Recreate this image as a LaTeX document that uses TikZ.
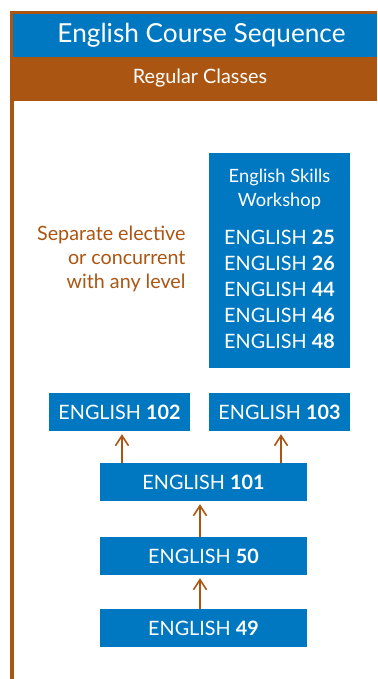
\documentclass[tikz,border=0pt]{standalone}
\usepackage{fontspec}
\setmainfont{Lato}
\usetikzlibrary{arrows.meta,calc}
\definecolor{courseblue}{RGB}{0,120,193}
\definecolor{rust}{RGB}{170,85,18}
\begin{document}
\begin{tikzpicture}[x=1pt,y=-1pt,
  course/.style={fill=courseblue,text=white,inner sep=0pt,font=\fontsize{19.8}{22}\selectfont},
  uparrow/.style={draw=rust,line width=1.8pt,-{Straight Barb[length=10pt,width=13pt,line width=1.6pt]},shorten >=3pt}]
\useasboundingbox (0,0) rectangle (377,679);
% frame and header bands
\fill[rust] (10,11) rectangle (377,101);
\fill[rust] (10,101) rectangle (14,679);
\fill[courseblue] (13,14) rectangle (377,57);
\node[text=white,font=\fontsize{26.2}{30}\selectfont] (title) at (201.5,35) {English Course Sequence};
\node[text=white,font=\fontsize{19.8}{22}\selectfont] (regular) at (200,78.5) {Regular Classes};
% workshop block
\node[course,minimum width=141pt,minimum height=215pt] (workshop) at (279.5,260.5) {};
\node[text=white,align=center,font=\fontsize{18.3}{24}\selectfont] (wtitle) at (279.5,189) {English Skills\\Workshop};
\node[course] (e25) at (279.5,237) {ENGLISH \textbf{25}};
\node[course] (e26) at (279.5,263) {ENGLISH \textbf{26}};
\node[course] (e44) at (279.5,289) {ENGLISH \textbf{44}};
\node[course] (e46) at (279.5,315) {ENGLISH \textbf{46}};
\node[course] (e48) at (279.5,341) {ENGLISH \textbf{48}};
\node[text=rust,align=right,anchor=east,font=\fontsize{19.7}{24}\selectfont] (note) at (189,259) {Separate elective\\or concurrent\\with any level};
% course sequence
\node[course,minimum width=141pt,minimum height=38pt] (b102) at (119.5,412) {ENGLISH \textbf{102}};
\node[course,minimum width=141pt,minimum height=38pt] (b103) at (279.5,412) {ENGLISH \textbf{103}};
\node[course,minimum width=207pt,minimum height=38pt] (b101) at (203.5,482) {ENGLISH \textbf{101}};
\node[course,minimum width=207pt,minimum height=38pt] (b50) at (203.5,556) {ENGLISH \textbf{50}};
\node[course,minimum width=207pt,minimum height=38pt] (b49) at (203.5,628) {ENGLISH \textbf{49}};
\draw[uparrow] ($(b101.north -| b102.south)+(2.5,0)$) -- ($(b102.south)+(2.5,0)$);
\draw[uparrow] ($(b101.north -| b103.south)+(1.5,0)$) -- ($(b103.south)+(1.5,0)$);
\draw[uparrow] ($(b50.north)+(-3.5,0)$) -- ($(b101.south)+(-3.5,0)$);
\draw[uparrow] ($(b49.north)+(-3.5,0)$) -- ($(b50.south)+(-3.5,0)$);
\end{tikzpicture}
\end{document}
